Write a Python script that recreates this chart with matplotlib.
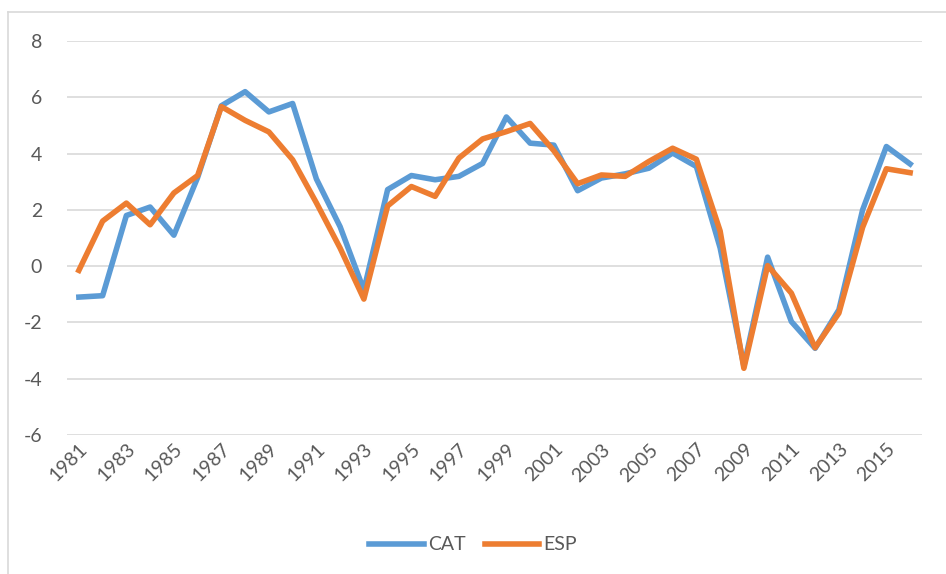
import matplotlib
matplotlib.use("Agg")
import matplotlib.pyplot as plt
from matplotlib.lines import Line2D

# データ
years = list(range(1981, 2017))
cat = [-1.1, -1.05, 1.8, 2.1, 1.1, 3.15, 5.7, 6.2, 5.48, 5.78,
       3.1, 1.4, -0.85, 2.72, 3.22, 3.07, 3.19, 3.65, 5.3, 4.37,
       4.3, 2.68, 3.13, 3.28, 3.48, 4.02, 3.54, 0.65, -3.55, 0.32,
       -1.97, -2.92, -1.55, 2.0, 4.25, 3.63]
esp = [-0.15, 1.6, 2.24, 1.47, 2.6, 3.22, 5.67, 5.18, 4.77, 3.78,
       2.25, 0.64, -1.17, 2.14, 2.83, 2.48, 3.84, 4.52, 4.78, 5.07,
       4.1, 2.93, 3.24, 3.19, 3.72, 4.19, 3.8, 1.25, -3.63, 0.02,
       -0.96, -2.9, -1.67, 1.38, 3.46, 3.32]
yticks = [-6, -4, -2, 0, 2, 4, 6, 8]
xtick_years = years[::2]

plt.rcParams['font.family'] = ['Lato', 'DejaVu Sans']

fig = plt.figure(figsize=(9.46, 5.74), dpi=100)
ax = fig.add_axes([67 / 946, 1 - 435 / 574, (922 - 67) / 946, (435 - 41) / 574])

ax.plot(years, cat, color='#5B9BD5', lw=4.0, label='CAT', solid_joinstyle='round')
ax.plot(years, esp, color='#ED7D31', lw=4.0, label='ESP', solid_joinstyle='round')

ax.set_xlim(years[0] - 0.5, years[-1] + 0.5)
ax.set_ylim(-6, 8)
ax.set_yticks(yticks)
ax.set_yticklabels([str(v) for v in yticks])
ax.set_xticks(xtick_years)
ax.set_xticklabels([str(y) for y in xtick_years], rotation=45, ha='right',
                   rotation_mode='anchor')

ax.grid(axis='y', color='#D9D9D9', lw=1.2)
ax.set_axisbelow(True)
for s in ax.spines.values():
    s.set_visible(False)
ax.tick_params(axis='both', length=0, labelsize=14, colors='#595959')
ax.tick_params(axis='y', pad=18)
ax.tick_params(axis='x', pad=4)

fig.legend(loc='center', bbox_to_anchor=(0.5, 1 - 545 / 574), ncol=2, frameon=False,
           fontsize=14, labelcolor='#595959', handlelength=2.8, handletextpad=0.2,
           columnspacing=1.0)

# 外枠
fig.add_artist(Line2D([8 / 946, 8 / 946], [0, 1 - 12 / 574], color='#D9D9D9', lw=1.2))
fig.add_artist(Line2D([8 / 946, 1], [1 - 12 / 574, 1 - 12 / 574], color='#D9D9D9', lw=1.2))

fig.savefig('out.png', dpi=100)
